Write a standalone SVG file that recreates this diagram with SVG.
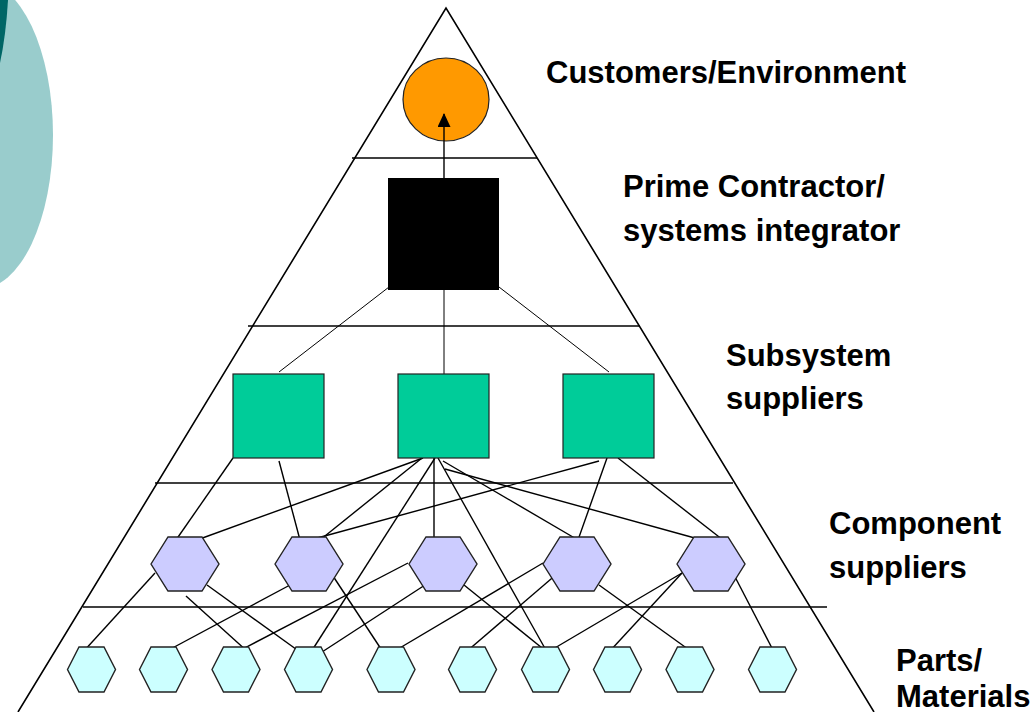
<svg xmlns="http://www.w3.org/2000/svg" width="1032" height="712" viewBox="0 0 1032 712">
<defs>
<marker id="arr" markerUnits="userSpaceOnUse" markerWidth="14" markerHeight="16" refX="13" refY="6.5" orient="auto">
<path d="M0,0 L14,6.5 L0,13 Z" fill="#000"/>
</marker>
<style>
.lbl{font-family:"Liberation Sans",Arial,sans-serif;font-weight:bold;font-size:31px;fill:#000}
.frame{fill:none;stroke:#000;stroke-width:1.6}
.conn line{stroke:#000;stroke-width:1.4}
.conn line.thin{stroke-width:1}
.sub{fill:#00CC99;stroke:#222;stroke-width:1.2}
.comp{fill:#CCCCFF;stroke:#222;stroke-width:1.4}
.part{fill:#CCFFFF;stroke:#222;stroke-width:1.4}
</style>
</defs>
<rect width="1032" height="712" fill="#fff"/>
<!-- left decoration -->
<ellipse cx="-20" cy="135" rx="73" ry="154" fill="#99CCCC"/>
<path d="M0,0 L8,0 Q6,35 0,63 Z" fill="#006666"/>
<!-- pyramid frame -->
<g id="pyramid">
<polyline class="frame" points="18,712 446,8 874,712"/>
<line class="frame" x1="352" y1="158" x2="537" y2="158"/>
<line class="frame" x1="248" y1="326" x2="640" y2="326"/>
<line class="frame" x1="155" y1="483" x2="733" y2="483"/>
<line class="frame" x1="83" y1="607" x2="827" y2="607"/>
</g>
<g id="customers"><ellipse cx="446" cy="99.5" rx="43" ry="41.5" fill="#FF9900" stroke="#222" stroke-width="1.2"/></g>
<g id="connectors" class="conn">
<line x1="444" y1="178" x2="444" y2="114" marker-end="url(#arr)"/>
<line class="thin" x1="389" y1="287" x2="279" y2="372"/>
<line class="thin" x1="444" y1="290" x2="444" y2="374"/>
<line class="thin" x1="499" y1="287" x2="609" y2="372"/>
<line x1="233" y1="458" x2="176" y2="540"/>
<line x1="279" y1="461" x2="300" y2="540"/>
<line x1="423" y1="458" x2="197" y2="540"/>
<line x1="422" y1="458" x2="320" y2="540"/>
<line x1="599" y1="461" x2="310" y2="540"/>
<line x1="435" y1="458" x2="311" y2="652"/>
<line x1="434" y1="458" x2="434" y2="540"/>
<line x1="438" y1="458" x2="547" y2="652"/>
<line x1="443" y1="461" x2="578" y2="540"/>
<line x1="445" y1="469" x2="702" y2="540"/>
<line x1="607" y1="458" x2="578" y2="540"/>
<line x1="618" y1="458" x2="723" y2="540"/>
<line x1="155" y1="573" x2="83" y2="652"/>
<line x1="207" y1="585" x2="300" y2="652"/>
<line x1="186" y1="596" x2="248" y2="652"/>
<line x1="290" y1="585" x2="165" y2="652"/>
<line x1="331" y1="573" x2="383" y2="652"/>
<line x1="408" y1="563" x2="237" y2="652"/>
<line x1="425" y1="585" x2="322" y2="652"/>
<line x1="543" y1="563" x2="393" y2="652"/>
<line x1="558" y1="573" x2="466" y2="652"/>
<line x1="464" y1="585" x2="547" y2="652"/>
<line x1="599" y1="585" x2="692" y2="652"/>
<line x1="682" y1="573" x2="548" y2="652"/>
<line x1="682" y1="573" x2="609" y2="652"/>
<line x1="733" y1="573" x2="774" y2="652"/>
</g>
<g id="prime"><rect x="388" y="178" width="111" height="112" fill="#000"/></g>
<g id="sub1"><rect class="sub" x="233" y="374" width="91" height="84"/></g>
<g id="sub2"><rect class="sub" x="398" y="374" width="91" height="84"/></g>
<g id="sub3"><rect class="sub" x="563" y="374" width="91" height="84"/></g>
<g id="comp1"><polygon class="comp" points="151,564 168,537 202,537 219,564 202,591 168,591"/></g>
<g id="comp2"><polygon class="comp" points="275,564 292,537 326,537 343,564 326,591 292,591"/></g>
<g id="comp3"><polygon class="comp" points="409,564 426,537 460,537 477,564 460,591 426,591"/></g>
<g id="comp4"><polygon class="comp" points="543,564 560,537 594,537 611,564 594,591 560,591"/></g>
<g id="comp5"><polygon class="comp" points="677,564 694,537 728,537 745,564 728,591 694,591"/></g>
<g id="part1"><polygon class="part" points="67.5,669.5 79,647 104,647 115.5,669.5 104,692 79,692"/></g>
<g id="part2"><polygon class="part" points="139.5,669.5 151,647 176,647 187.5,669.5 176,692 151,692"/></g>
<g id="part3"><polygon class="part" points="212,669.5 223.5,647 248.5,647 260,669.5 248.5,692 223.5,692"/></g>
<g id="part4"><polygon class="part" points="284.5,669.5 296,647 321,647 332.5,669.5 321,692 296,692"/></g>
<g id="part5"><polygon class="part" points="367,669.5 378.5,647 403.5,647 415,669.5 403.5,692 378.5,692"/></g>
<g id="part6"><polygon class="part" points="448.5,669.5 460,647 485,647 496.5,669.5 485,692 460,692"/></g>
<g id="part7"><polygon class="part" points="521.5,669.5 533,647 558,647 569.5,669.5 558,692 533,692"/></g>
<g id="part8"><polygon class="part" points="593.5,669.5 605,647 630,647 641.5,669.5 630,692 605,692"/></g>
<g id="part9"><polygon class="part" points="666,669.5 677.5,647 702.5,647 714,669.5 702.5,692 677.5,692"/></g>
<g id="part10"><polygon class="part" points="748.5,669.5 760,647 785,647 796.5,669.5 785,692 760,692"/></g>
<g id="labels">
<text class="lbl" x="546" y="83">Customers/Environment</text>
<text class="lbl" x="623" y="197">Prime Contractor/</text>
<text class="lbl" x="623" y="241">systems integrator</text>
<text class="lbl" x="726" y="366">Subsystem</text>
<text class="lbl" x="726" y="409">suppliers</text>
<text class="lbl" x="829" y="534">Component</text>
<text class="lbl" x="829" y="578">suppliers</text>
<text class="lbl" x="896" y="671">Parts/</text>
<text class="lbl" x="896" y="707">Materials</text>
</g>
</svg>
